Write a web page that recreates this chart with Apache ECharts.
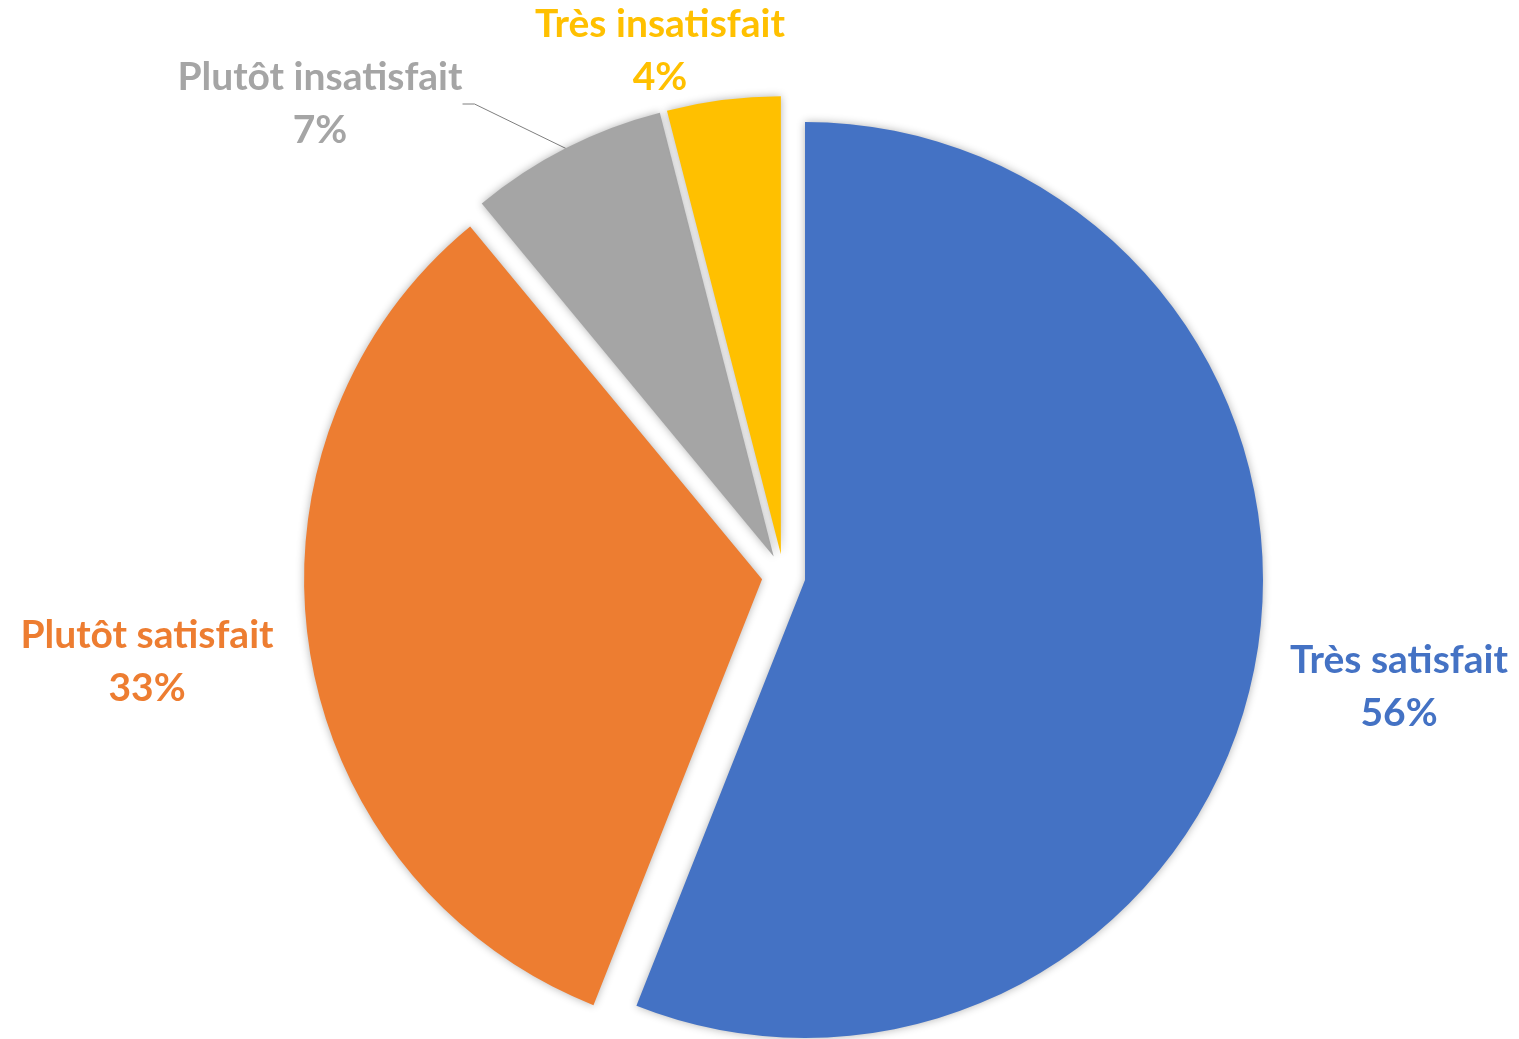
<!DOCTYPE html>
<html>
<head>
<meta charset="utf-8">
<script src="https://cdn.jsdelivr.net/npm/echarts@6/dist/echarts.min.js"></script>
<style>
html,body{margin:0;padding:0;background:#fff;}
#chart{width:1519px;height:1039px;}
</style>
</head>
<body>
<div id="chart"></div>
<script>
// Data
const categories = ['Très satisfait', 'Plutôt satisfait', 'Plutôt insatisfait', 'Très insatisfait'];
const values = [56, 33, 7, 4];
const colors = ['#4472C4', '#ED7D31', '#A5A5A5', '#FFC000'];
// Layout (not data): label centres, leader lines, explosion
const labelPos = [[1399, 687], [147, 662], [320, 104], [660, 51]];
const showLeader = [false, false, true, false];
const CX = 783.6, CY = 575.9, R = 458, EXPLODE = 21.8;

const total = values.reduce((a, b) => a + b, 0);
let cum = 0;
const series = values.map((v, i) => {
  const mid = 2 * Math.PI * (cum + v / 2) / total; // clockwise from top
  cum += v;
  const cx = CX + EXPLODE * Math.sin(mid);
  const cy = CY - EXPLODE * Math.cos(mid);
  return {
    type: 'pie',
    center: [cx, cy],
    radius: [0, R],
    startAngle: 90,
    clockwise: true,
    avoidLabelOverlap: false,
    emphasis: {disabled: true},
    label: {
      show: true,
      position: 'outside',
      formatter: p => p.name + '\n' + p.value + '%',
      fontFamily: 'Lato',
      fontWeight: 'bold',
      fontSize: 39,
      lineHeight: 53
    },
    labelLine: {
      show: false,
      length: 20,
      length2: 12,
      lineStyle: {color: '#7f7f7f', width: 1}
    },
    labelLayout: function (params) {
      if (params.dataIndex !== i) return {};
      const p = labelPos[i];
      return {x: p[0], y: p[1], align: 'center', verticalAlign: 'middle'};
    },
    data: categories.map((c, j) => j === i ? {
      name: c,
      value: values[j],
      itemStyle: {color: colors[j], shadowBlur: 8, shadowColor: 'rgba(0,0,0,0.3)'},
      label: {show: true, color: colors[j]},
      labelLine: {show: showLeader[j]}
    } : {
      name: c,
      value: values[j],
      itemStyle: {color: 'rgba(0,0,0,0)'},
      label: {show: false},
      labelLine: {show: false}
    })
  };
});

const chart = echarts.init(document.getElementById('chart'), null, {renderer: 'canvas'});
chart.setOption({
  animation: false,
  backgroundColor: '#ffffff',
  tooltip: {show: false},
  series: series
});
</script>
</body>
</html>
